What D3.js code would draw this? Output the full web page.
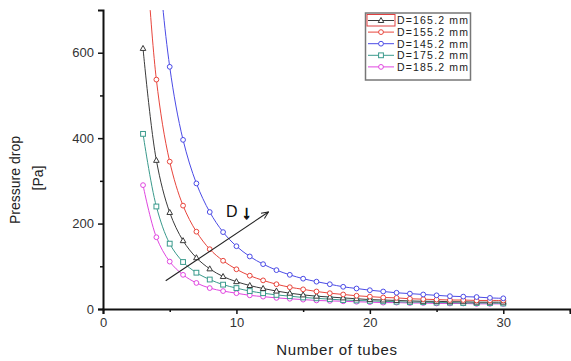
<!DOCTYPE html>
<html><head><meta charset="utf-8">
<script src="https://cdn.jsdelivr.net/npm/d3@7"></script>
<style>body{margin:0;background:#fff;}text{font-family:"Liberation Sans",Arial,sans-serif;}</style>
</head><body><svg id="c" width="571" height="361"></svg>
<script>
const tubes = [3,4,5,6,7,8,9,10,11,12,13,14,15,16,17,18,19,20,21,22,23,24,25,26,27,28,29,30];
const d165 = [610,348,226,160,120,94,76,64,55,48,42,37,33,30,28,26,24,22,21,20,19,18,18,17,17,16,16,16];
const d155 = [950,537,345,242,181,140,113,93,78,67,58,51,46,41,37,34,31,29,27,26,24,23,22,21,21,20,20,20];
const d145 = [1580,890,567,396,294,227,180,147,123,105,91,80,71,64,58,52,48,44,41,38,36,34,32,30,29,28,26,25];
const d175 = [410,240,153,110,85,69,57,49,42,37,33,30,27,25,23,21,20,19,18,17,16,16,15,15,14,14,14,13];
const d185 = [290,168,111,80,61,49,42,37,32,29,26,24,22,20,19,18,17,16,15,15,14,14,13,13,13,12,12,12];
const seriesNames = ["D=165.2 mm","D=155.2 mm","D=145.2 mm","D=175.2 mm","D=185.2 mm"];
const seriesValues = [d165,d155,d145,d175,d185];
const seriesColors = ["#3a3a3a","#e8453c","#4b4be6","#3a9a8c","#e046e0"];
const seriesMarkers = ["triangle","circle","circle","square","circle"];
const xTicks = [0,10,20,30];
const yTicks = [0,200,400,600];

const svg = d3.select("#c");
const x = d3.scaleLinear().domain([0,35]).range([103,570]);
const y = d3.scaleLinear().domain([0,700]).range([309,10]);

svg.append("defs").append("clipPath").attr("id","clip")
  .append("rect").attr("x",103).attr("y",10).attr("width",467).attr("height",299);

// axes
const xAxis = d3.axisBottom(x).tickValues(xTicks).tickSize(5).tickPadding(4).tickFormat(d3.format("d"));
svg.append("g").attr("transform","translate(0,309)").call(xAxis);
const xMinor = d3.axisBottom(x).tickValues([5,15,25,35]).tickSize(3).tickFormat("");
svg.append("g").attr("transform","translate(0,309)").call(xMinor).select(".domain").remove();
const yAxis = d3.axisLeft(y).tickValues(yTicks).tickSize(5).tickPadding(4);
svg.append("g").attr("transform","translate(103,0)").call(yAxis);
const yMinor = d3.axisLeft(y).tickValues([100,300,500]).tickSize(3).tickFormat("");
svg.append("g").attr("transform","translate(103,0)").call(yMinor).select(".domain").remove();
svg.selectAll(".domain").attr("stroke","#111").attr("stroke-width",2);
svg.selectAll(".tick line").attr("stroke","#111").attr("stroke-width",1.5);
svg.selectAll(".tick text").attr("font-size",13).attr("fill","#333").attr("font-family","Liberation Sans, Arial, sans-serif");

// axis titles
svg.append("text").attr("x",337).attr("y",355).attr("text-anchor","middle")
  .attr("font-size",15).attr("letter-spacing",0.7).attr("fill","#222").text("Number of tubes");
svg.append("text").attr("transform","translate(20,180) rotate(-90)").attr("text-anchor","middle")
  .attr("font-size",14).attr("fill","#222").text("Pressure drop");
svg.append("text").attr("transform","translate(43,178) rotate(-90)").attr("text-anchor","middle")
  .attr("font-size",14).attr("fill","#222").text("[Pa]");

// series
const line = d3.line().x(d=>x(d[0])).y(d=>y(d[1])).curve(d3.curveCatmullRom);
const plot = svg.append("g").attr("clip-path","url(#clip)");
function marker(g, type, color, cx, cy){
  if(type==="circle") g.append("circle").attr("cx",cx).attr("cy",cy).attr("r",2.4).attr("fill","#fff").attr("stroke",color).attr("stroke-width",1);
  else if(type==="square") g.append("rect").attr("x",cx-2.4).attr("y",cy-2.4).attr("width",4.8).attr("height",4.8).attr("fill","#fff").attr("stroke",color).attr("stroke-width",1);
  else g.append("path").attr("d",`M${cx},${cy-3}L${cx+2.8},${cy+2}L${cx-2.8},${cy+2}Z`).attr("fill","#fff").attr("stroke",color).attr("stroke-width",1);
}
const drawOrder = [4,3,0,1,2];
drawOrder.forEach(i=>{
  const pts = tubes.map((t,k)=>[t,seriesValues[i][k]]);
  plot.append("path").datum(pts).attr("d",line).attr("fill","none").attr("stroke",seriesColors[i]).attr("stroke-width",1);
});
drawOrder.forEach(i=>{
  const g = plot.append("g");
  tubes.forEach((t,k)=>marker(g, seriesMarkers[i], seriesColors[i], x(t), y(seriesValues[i][k])));
});

// arrow annotation
const defs = svg.select("defs");
defs.append("marker").attr("id","ah").attr("viewBox","0 0 10 10").attr("refX",9).attr("refY",5)
  .attr("markerWidth",7).attr("markerHeight",7).attr("orient","auto")
  .append("path").attr("d","M0,1L9,5L0,9").attr("fill","none").attr("stroke","#222").attr("stroke-width",1.3);
svg.append("line").attr("x1",x(4.7)).attr("y1",y(66)).attr("x2",x(12.4)).attr("y2",y(227))
  .attr("stroke","#222").attr("stroke-width",1.1).attr("marker-end","url(#ah)");
svg.append("text").attr("x",226).attr("y",217).attr("font-size",16).attr("fill","#111").text("D");
svg.append("text").attr("x",242).attr("y",219).attr("font-size",19).attr("font-weight","bold")
  .attr("stroke","#111").attr("stroke-width",0.8)
  .attr("font-family","DejaVu Sans").attr("fill","#111").text("↓");

// legend
const lg = svg.append("g");
lg.append("rect").attr("x",365.5).attr("y",13).attr("width",105).attr("height",67).attr("fill","#fff").attr("stroke","#777").attr("stroke-width",1.5);
lg.append("rect").attr("x",367).attr("y",14.5).attr("width",28).attr("height",11.5).attr("fill","none").attr("stroke","#e04040").attr("stroke-width",1);
seriesNames.forEach((n,i)=>{
  const yy = 20.5 + i*11.6;
  lg.append("line").attr("x1",368).attr("x2",394).attr("y1",yy).attr("y2",yy).attr("stroke",seriesColors[i]).attr("stroke-width",1);
  marker(lg, seriesMarkers[i], seriesColors[i], 381, yy);
  lg.append("text").attr("x",397).attr("y",yy+3.8).attr("font-size",10.5).attr("textLength",71)
    .attr("lengthAdjust","spacing").attr("fill","#222").text(n);
});
</script></body></html>
